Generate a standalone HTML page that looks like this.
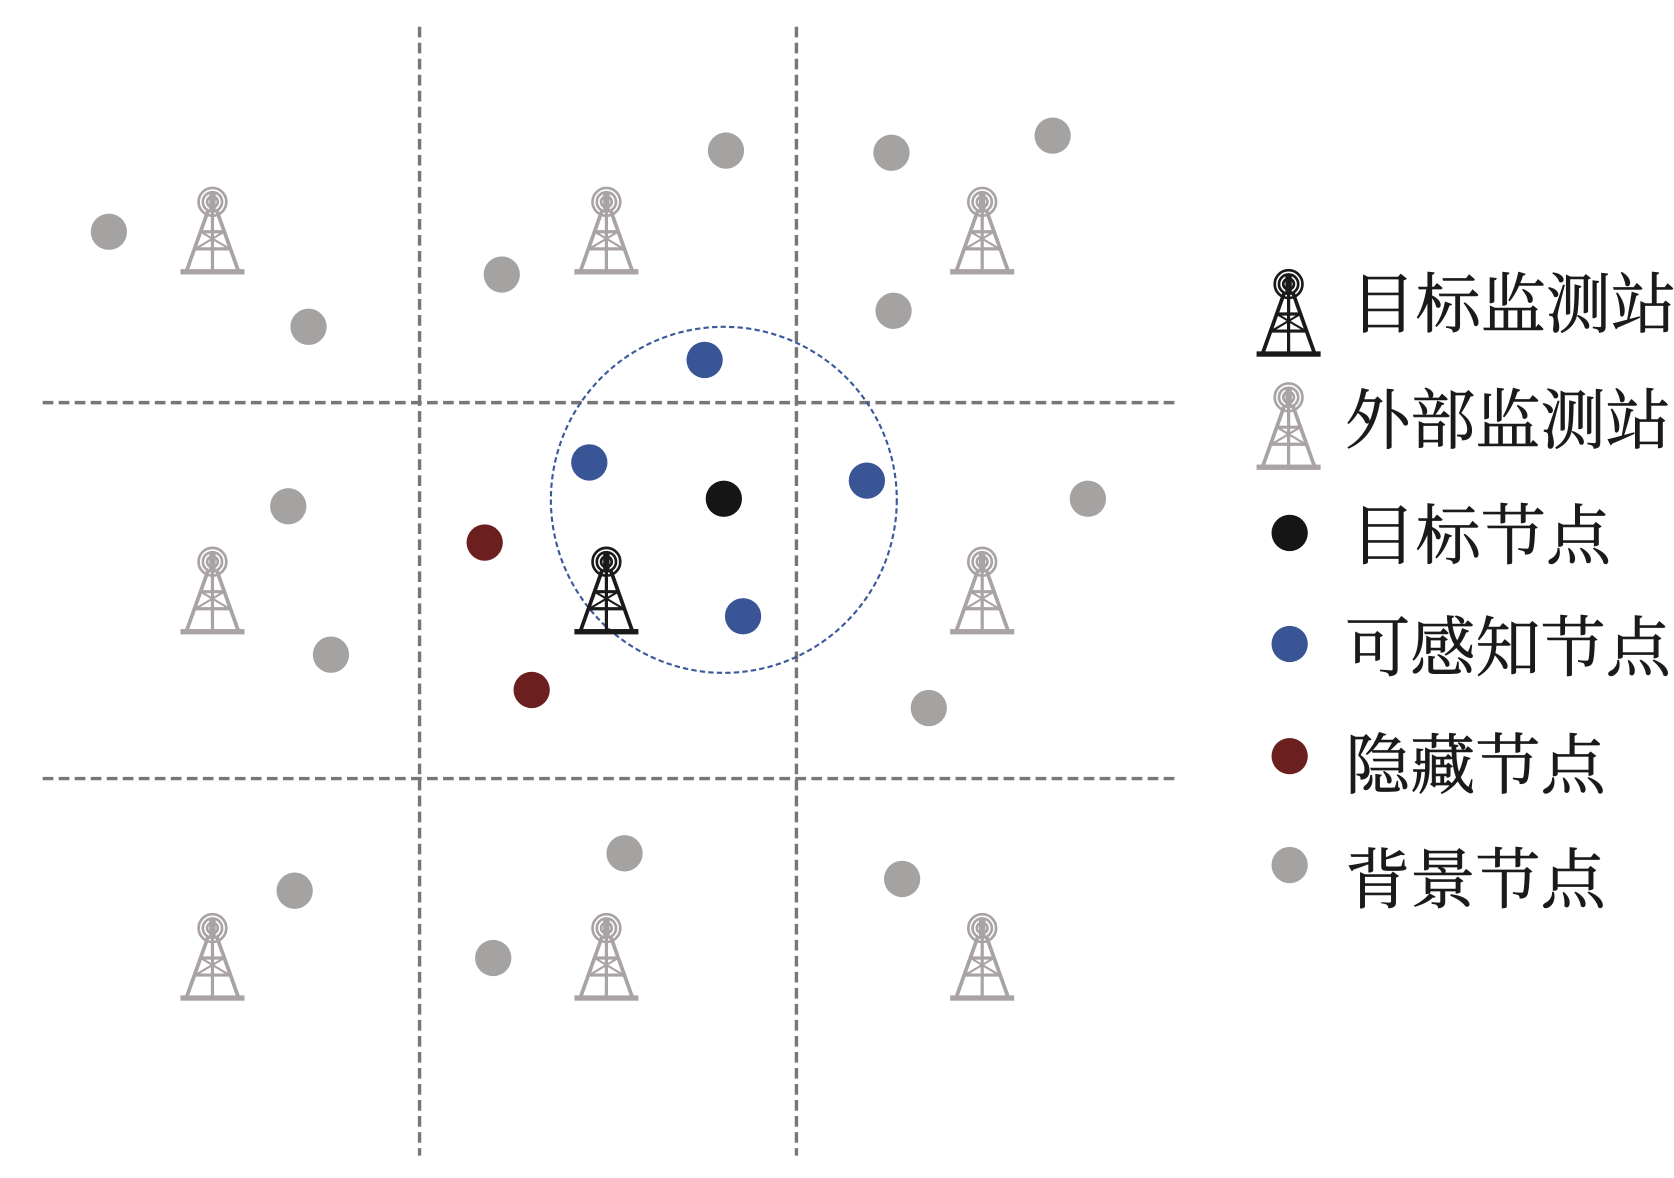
<!DOCTYPE html>
<html><head><meta charset="utf-8"><style>
html,body{margin:0;padding:0;background:#fff;}
svg{display:block;}
</style></head><body>
<svg width="1674" height="1178" viewBox="0 0 1568 1103" preserveAspectRatio="none" xmlns="http://www.w3.org/2000/svg">
<defs>
<g id="tw">
  <circle cx="0" cy="14" r="13" fill="none" stroke-width="2.5"/>
  <circle cx="0" cy="14" r="9" fill="none" stroke-width="2.5"/>
  <circle cx="0" cy="14" r="5" fill="none" stroke-width="2.5"/>
  <rect x="-3" y="6" width="6" height="16" stroke="none"/>
  <line x1="-4" y1="22" x2="-24" y2="78" stroke-width="3.5"/>
  <line x1="4" y1="22" x2="24" y2="78" stroke-width="3.5"/>
  <line x1="0" y1="20" x2="0" y2="78" stroke-width="3"/>
  <line x1="-11" y1="42" x2="11" y2="42" stroke-width="3"/>
  <line x1="-16" y1="58" x2="16" y2="58" stroke-width="3"/>
  <line x1="-11" y1="42" x2="16" y2="58" stroke-width="2"/>
  <line x1="11" y1="42" x2="-16" y2="58" stroke-width="2"/>
  <rect x="-30" y="77" width="60" height="5" stroke="none"/>
</g>
</defs>
<g stroke="#7a7676" stroke-width="3.2" stroke-dasharray="10 5" fill="none">
  <line x1="393" y1="25" x2="393" y2="1082"/>
  <line x1="746" y1="25" x2="746" y2="1082"/>
  <line x1="40" y1="377" x2="1100" y2="377"/>
  <line x1="40" y1="729" x2="1100" y2="729"/>
</g>
<circle cx="678" cy="468" r="162" fill="none" stroke="#3b5a9a" stroke-width="2" stroke-dasharray="5 3"/>
<g fill="#a9a3a3" stroke="#a9a3a3">
  <use href="#tw" x="199" y="175"/><use href="#tw" x="568" y="175"/><use href="#tw" x="920" y="175"/>
  <use href="#tw" x="199" y="512"/><use href="#tw" x="920" y="512"/>
  <use href="#tw" x="199" y="855"/><use href="#tw" x="568" y="855"/><use href="#tw" x="920" y="855"/>
  <use href="#tw" x="1207" y="358"/>
</g>
<g fill="#1a1a1a" stroke="#1a1a1a">
  <use href="#tw" x="568" y="512"/>
  <use href="#tw" x="1207" y="252"/>
</g>
<g fill="#a5a2a2">
  <circle cx="102" cy="217" r="17"/><circle cx="289" cy="306" r="17"/><circle cx="470" cy="257" r="17"/>
  <circle cx="680" cy="141" r="17"/><circle cx="835" cy="143" r="17"/><circle cx="986" cy="127" r="17"/>
  <circle cx="837" cy="291" r="17"/><circle cx="270" cy="474" r="17"/><circle cx="310" cy="613" r="17"/>
  <circle cx="1019" cy="467" r="17"/><circle cx="870" cy="663" r="17"/><circle cx="276" cy="834" r="17"/>
  <circle cx="585" cy="799" r="17"/><circle cx="462" cy="897" r="17"/><circle cx="845" cy="823" r="17"/>
  <circle cx="1208" cy="810" r="17"/>
</g>
<g fill="#3a5596">
  <circle cx="660" cy="337" r="17"/><circle cx="552" cy="433" r="17"/><circle cx="812" cy="450" r="17"/>
  <circle cx="696" cy="577" r="17"/><circle cx="1208" cy="603" r="17"/>
</g>
<g fill="#6b1f1f"><circle cx="454" cy="508" r="17"/><circle cx="498" cy="646" r="17"/><circle cx="1208" cy="708" r="17"/></g>
<g fill="#151515"><circle cx="678" cy="467" r="17"/><circle cx="1208" cy="499" r="17"/></g>
<g font-family="'Liberation Serif','Noto Serif CJK SC',serif" font-size="61" fill="#1a1a1a" stroke="#1a1a1a" stroke-width="0.6">
  <text x="1265" y="306">目标监测站</text>
  <text x="1260" y="415">外部监测站</text>
  <text x="1265" y="523">目标节点</text>
  <text x="1260" y="628">可感知节点</text>
  <text x="1260" y="738">隐藏节点</text>
  <text x="1260" y="845">背景节点</text>
</g>
</svg>
</body></html>
